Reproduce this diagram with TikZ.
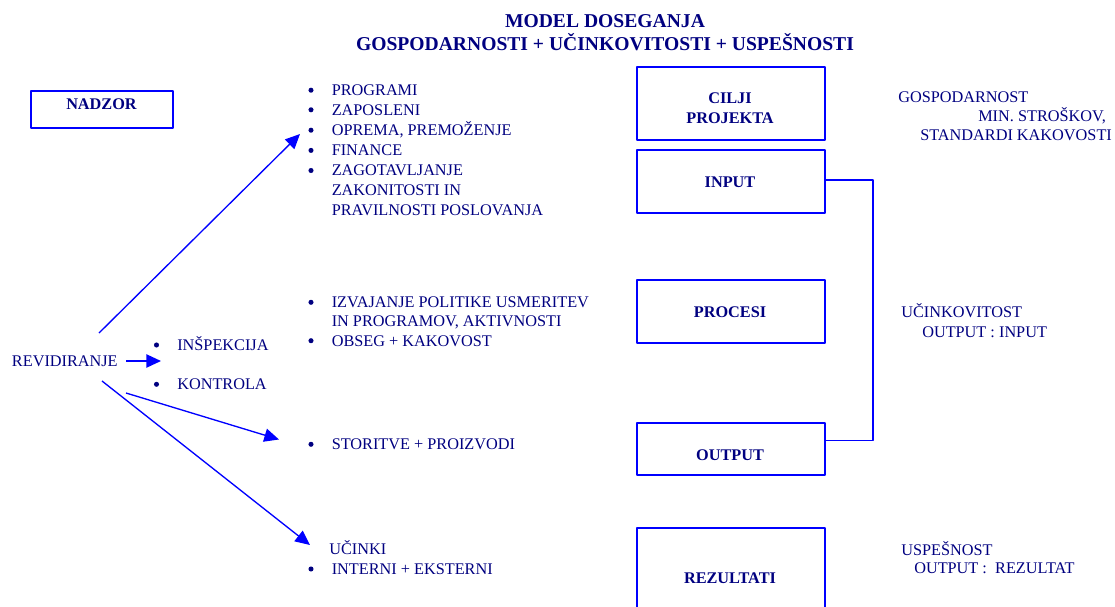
\documentclass[tikz,border=0pt]{standalone}
\usepackage{fontspec}
\setmainfont{Liberation Serif}
\usetikzlibrary{arrows.meta}
\definecolor{navytxt}{RGB}{0,0,128}
\definecolor{lblue}{RGB}{0,0,255}
\tikzset{
	box/.style={draw=lblue, line width=1.35pt, minimum width=141.2pt, inner sep=0pt},
	txt/.style={text=navytxt, font=\fontsize{12.2}{15}\selectfont, inner sep=0pt, anchor=base west},
	btxt/.style={text=navytxt, font=\fontsize{12.2}{15}\selectfont\bfseries, inner sep=0pt, anchor=base},
	arr/.style={draw=lblue, line width=1pt, -{Triangle[length=11pt,width=10pt]}},
	conn/.style={draw=lblue, line width=1pt},
	dot/.style={fill=navytxt}
}
\begin{document}
\begin{tikzpicture}[x=0.75pt, y=-0.75pt, line join=round]
				\useasboundingbox (0,0) rectangle (1115,607);
				\clip (0,0) rectangle (1115,607);
				\node[btxt, font=\fontsize{14.7}{18}\selectfont\bfseries] (title1) at (605,27) {MODEL DOSEGANJA};
				\node[btxt, font=\fontsize{14.7}{18}\selectfont\bfseries] (title2) at (605,50.5) {GOSPODARNOSTI + UČINKOVITOSTI + USPEŠNOSTI};
				\node[box, minimum width=106.7pt, minimum height=27.75pt] (nadzor) at (101.85,109.5) {};
				\node[btxt] (t-nadzor) at (101.5,109.7) {NADZOR};
				\node[box, minimum height=55pt] (cilji) at (730.8,103.35) {};
				\node[btxt] (t-cilji) at (730,103.7) {CILJI};
				\node[btxt] (t-projekta) at (730,123.1) {PROJEKTA};
				\node[box, minimum height=47.5pt] (input) at (730.8,181.65) {};
				\node[btxt] (t-input) at (730,187.1) {INPUT};
				\node[box, minimum height=47pt] (procesi) at (730.8,311.35) {};
				\node[btxt] (t-procesi) at (730,317.1) {PROCESI};
				\node[box, minimum height=39.2pt] (output) at (730.8,448.85) {};
				\node[btxt] (t-output) at (730,460.4) {OUTPUT};
				\node[box, minimum height=75pt] (rezultati) at (730.8,578.3) {};
				\node[btxt] (t-rezultati) at (730,583.4) {REZULTATI};
				\draw[conn] ([yshift=1.24pt]input.east) -- ++(47,0) |- ([yshift=6.1pt]output.east);
				\node[txt] (programi) at (331.5,95.6) {PROGRAMI};
				\node[txt] (zaposleni) at (331.5,115.2) {ZAPOSLENI};
				\node[txt] (oprema) at (331.5,135.6) {OPREMA, PREMOŽENJE};
				\node[txt] (finance) at (331.5,155.8) {FINANCE};
				\node[txt] (zagot) at (331.5,175.9) {ZAGOTAVLJANJE};
				\node[txt] (zakon) at (331.5,195.9) {ZAKONITOSTI IN};
				\node[txt] (pravil) at (331.5,215.9) {PRAVILNOSTI POSLOVANJA};
				\node[txt] (izvaj) at (331.5,307.7) {IZVAJANJE POLITIKE USMERITEV};
				\node[txt] (inprog) at (331.5,326.1) {IN PROGRAMOV, AKTIVNOSTI};
				\node[txt] (obseg) at (331.5,346.1) {OBSEG + KAKOVOST};
				\node[txt] (storitve) at (331.5,449.7) {STORITVE + PROIZVODI};
				\node[txt] (ucinki) at (329,554.7) {UČINKI};
				\node[txt] (interni) at (331.5,574.4) {INTERNI + EKSTERNI};
				\node[txt] (rev) at (11.7,366.4) {REVIDIRANJE};
				\node[txt] (insp) at (177,350.4) {INŠPEKCIJA};
				\node[txt] (kontr) at (177,389.7) {KONTROLA};
				\foreach \n in {programi,zaposleni,oprema,finance,zagot,izvaj,obseg,storitve,interni,insp,kontr}
					\fill[dot] (\n.base west) ++(-20.5,-5.4) circle[radius=1.9pt];
				\node[txt] (gosp) at (898,102.1) {GOSPODARNOST};
				\node[txt] (minstr) at (978,121.4) {MIN. STROŠKOV,};
				\node[txt] (stand) at (920,140.4) {STANDARDI KAKOVOSTI};
				\node[txt] (ucink) at (901,317.4) {UČINKOVITOST};
				\node[txt] (oi) at (922,337.1) {OUTPUT : INPUT};
				\node[txt] (uspes) at (901,555.4) {USPEŠNOST};
				\node[txt] (or) at (914,573.4) {OUTPUT :~ REZULTAT};
				\coordinate (s1) at (99,333);
				\coordinate (e1) at (300,134);
				\coordinate (s2) at (126,361);
				\coordinate (e2) at (161,361);
				\coordinate (s3) at (126,393);
				\coordinate (e3) at (279,439.5);
				\coordinate (s4) at (102,381);
				\coordinate (e4) at (310,545);
				\draw[arr] (s1) -- (e1);
				\draw[arr] (s2) -- (e2);
				\draw[arr] (s3) -- (e3);
				\draw[arr] (s4) -- (e4);
			\end{tikzpicture}
\end{document}
